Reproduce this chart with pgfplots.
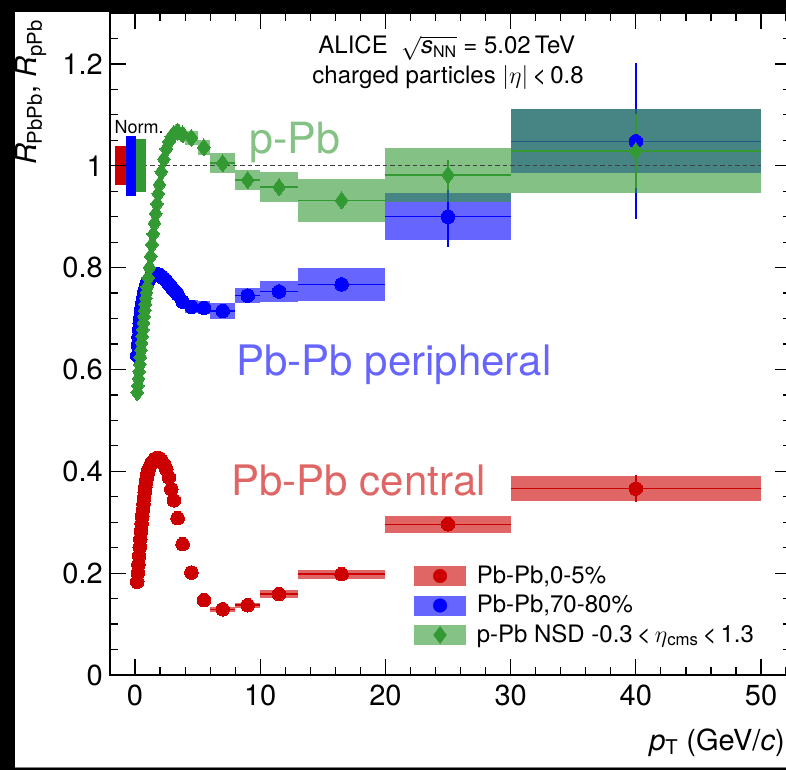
\RequirePackage{fix-cm}
\documentclass[border=0pt]{standalone}
\usepackage{fontspec}
\setmainfont{TeX Gyre Heros}
\usepackage{pgfplots}
\usepackage{pgfplotstable}
\pgfplotsset{compat=1.18}

\definecolor{cRed}{RGB}{204,0,0}
\definecolor{cBlue}{RGB}{0,0,255}
\definecolor{cGreen}{RGB}{51,153,51}
\colorlet{lRed}{cRed!60!white}
\colorlet{lBlue}{cBlue!60!white}
\colorlet{lGreen}{cGreen!60!white}

% x y ex stat sys
\pgfplotstableread{
x y ex stat sys
0.175 0.183 0.025 0.001 0.008
0.225 0.200 0.025 0.001 0.008
0.275 0.217 0.025 0.001 0.008
0.325 0.234 0.025 0.001 0.008
0.375 0.251 0.025 0.001 0.008
0.425 0.267 0.025 0.001 0.008
0.475 0.282 0.025 0.001 0.008
0.525 0.297 0.025 0.001 0.008
0.575 0.311 0.025 0.001 0.008
0.625 0.324 0.025 0.001 0.008
0.675 0.336 0.025 0.001 0.008
0.725 0.348 0.025 0.001 0.008
0.775 0.359 0.025 0.001 0.008
0.825 0.369 0.025 0.001 0.008
0.875 0.378 0.025 0.001 0.008
0.925 0.386 0.025 0.001 0.008
0.975 0.393 0.025 0.001 0.008
1.05 0.400 0.05 0.001 0.009
1.15 0.407 0.05 0.001 0.009
1.25 0.413 0.05 0.001 0.009
1.35 0.417 0.05 0.001 0.009
1.45 0.420 0.05 0.001 0.009
1.55 0.423 0.05 0.001 0.009
1.65 0.425 0.05 0.001 0.009
1.75 0.426 0.05 0.001 0.009
1.85 0.426 0.05 0.001 0.009
1.95 0.425 0.05 0.001 0.009
2.1 0.421 0.1 0.001 0.009
2.3 0.414 0.1 0.001 0.009
2.5 0.404 0.1 0.001 0.009
2.7 0.388 0.1 0.001 0.009
2.9 0.365 0.1 0.001 0.008
3.1 0.343 0.1 0.001 0.008
3.4 0.308 0.2 0.001 0.007
3.8 0.257 0.2 0.001 0.006
4.5 0.201 0.5 0.001 0.005
5.5 0.147 0.5 0.001 0.004
7 0.129 1 0.001 0.005
9 0.137 1 0.002 0.005
11.5 0.159 1.5 0.002 0.007
16.5 0.198 3.5 0.004 0.009
25 0.296 5 0.010 0.017
40 0.366 10 0.026 0.025
}\redtab

\pgfplotstableread{
x y ex stat sys
0.175 0.627 0.025 0.002 0.012
0.225 0.648 0.025 0.002 0.012
0.275 0.664 0.025 0.002 0.012
0.325 0.678 0.025 0.002 0.012
0.375 0.691 0.025 0.002 0.012
0.425 0.702 0.025 0.002 0.012
0.475 0.712 0.025 0.002 0.012
0.525 0.721 0.025 0.002 0.012
0.575 0.729 0.025 0.002 0.012
0.625 0.736 0.025 0.002 0.012
0.675 0.743 0.025 0.002 0.012
0.725 0.749 0.025 0.002 0.012
0.775 0.754 0.025 0.002 0.012
0.825 0.759 0.025 0.002 0.012
0.875 0.763 0.025 0.002 0.012
0.925 0.767 0.025 0.002 0.012
0.975 0.770 0.025 0.002 0.012
1.05 0.774 0.05 0.002 0.012
1.15 0.778 0.05 0.002 0.012
1.25 0.781 0.05 0.002 0.012
1.35 0.783 0.05 0.002 0.012
1.45 0.785 0.05 0.002 0.012
1.55 0.786 0.05 0.002 0.012
1.65 0.787 0.05 0.002 0.012
1.75 0.787 0.05 0.002 0.012
1.85 0.786 0.05 0.002 0.012
1.95 0.785 0.05 0.002 0.012
2.1 0.783 0.1 0.002 0.013
2.3 0.779 0.1 0.002 0.013
2.5 0.774 0.1 0.002 0.013
2.7 0.768 0.1 0.002 0.013
2.9 0.762 0.1 0.002 0.013
3.1 0.756 0.1 0.002 0.013
3.4 0.748 0.2 0.002 0.013
3.8 0.733 0.2 0.003 0.013
4.5 0.723 0.5 0.003 0.013
5.5 0.721 0.5 0.003 0.013
7 0.715 1 0.004 0.015
9 0.745 1 0.006 0.015
11.5 0.753 1.5 0.008 0.021
16.5 0.767 3.5 0.013 0.033
25 0.900 5 0.060 0.046
40 1.048 10 0.153 0.063
}\bluetab

\pgfplotstableread{
x y ex stat sys
0.175 0.555 0.025 0.002 0.012
0.225 0.568 0.025 0.002 0.012
0.275 0.582 0.025 0.002 0.012
0.325 0.596 0.025 0.002 0.012
0.375 0.610 0.025 0.002 0.012
0.425 0.624 0.025 0.002 0.012
0.475 0.638 0.025 0.002 0.012
0.525 0.652 0.025 0.002 0.012
0.575 0.665 0.025 0.002 0.012
0.625 0.678 0.025 0.002 0.012
0.675 0.691 0.025 0.002 0.012
0.725 0.704 0.025 0.002 0.012
0.775 0.716 0.025 0.002 0.012
0.825 0.728 0.025 0.002 0.012
0.875 0.740 0.025 0.002 0.012
0.925 0.751 0.025 0.002 0.012
0.975 0.762 0.025 0.002 0.012
1.05 0.780 0.05 0.002 0.013
1.15 0.800 0.05 0.002 0.013
1.25 0.822 0.05 0.002 0.013
1.35 0.845 0.05 0.002 0.013
1.45 0.866 0.05 0.002 0.013
1.55 0.887 0.05 0.002 0.013
1.65 0.906 0.05 0.002 0.013
1.75 0.925 0.05 0.002 0.013
1.85 0.945 0.05 0.002 0.013
1.95 0.963 0.05 0.002 0.013
2.1 0.988 0.1 0.002 0.014
2.3 1.013 0.1 0.002 0.014
2.5 1.033 0.1 0.002 0.014
2.7 1.047 0.1 0.002 0.014
2.9 1.057 0.1 0.002 0.014
3.1 1.063 0.1 0.002 0.015
3.4 1.067 0.2 0.002 0.015
3.8 1.062 0.2 0.003 0.015
4.5 1.055 0.5 0.003 0.014
5.5 1.036 0.5 0.003 0.015
7 1.005 1 0.004 0.020
9 0.972 1 0.005 0.020
11.5 0.958 1.5 0.007 0.030
16.5 0.932 3.5 0.012 0.042
25 0.982 5 0.030 0.053
40 1.029 10 0.073 0.083
}\greentab

\newcommand{\sysboxes}[2]{%
  \pgfplotstablegetrowsof{#1}%
  \pgfmathtruncatemacro{\nlast}{\pgfplotsretval-1}%
  \pgfplotsforeachungrouped \ri in {0,...,\nlast}{%
    \pgfplotstablegetelem{\ri}{x}\of{#1}\let\bx\pgfplotsretval
    \pgfplotstablegetelem{\ri}{y}\of{#1}\let\by\pgfplotsretval
    \pgfplotstablegetelem{\ri}{ex}\of{#1}\let\bex\pgfplotsretval
    \pgfplotstablegetelem{\ri}{sys}\of{#1}\let\bs\pgfplotsretval
    \pgfmathsetmacro{\xa}{\bx-\bex}%
    \pgfmathsetmacro{\xb}{\bx+\bex}%
    \pgfmathsetmacro{\ya}{\by-\bs}%
    \pgfmathsetmacro{\yb}{\by+\bs}%
    \edef\doplot{\noexpand\addplot[draw=none, fill=#2, fill opacity=0.6, forget plot] coordinates {(\xa,\ya) (\xb,\ya) (\xb,\yb) (\xa,\yb)} -- cycle;}%
    \doplot
  }%
}

\begin{document}
\begin{tikzpicture}
\useasboundingbox (0,0) rectangle (786pt,770pt);
\fill[black] (0,0) rectangle (786pt,770pt);
\fill[white] (15pt,2pt) rectangle (786pt,758pt);
\draw[gray, line width=1pt] (15pt,2.5pt) -- (786pt,2.5pt);
\begin{axis}[
  at={(110pt,95pt)}, anchor=south west,
  scale only axis, width=681.1pt, height=662pt,
  xmin=-2, xmax=52.4, ymin=0, ymax=1.3,
  xtick={0,10,20,30,40,50},
  minor xtick={-2,2,4,6,8,12,14,16,18,22,24,26,28,32,34,36,38,42,44,46,48,52},
  ytick={0,0.2,0.4,0.6,0.8,1,1.2},
  minor ytick={0.05,0.1,0.15,0.25,0.3,0.35,0.45,0.5,0.55,0.65,0.7,0.75,0.85,0.9,0.95,1.05,1.1,1.15,1.25},
  major tick length=16pt, minor tick length=8pt,
  every tick/.style={black, line width=1.2pt},
  axis line style={line width=1.2pt},
  axis on top,
  /pgf/number format/assume math mode=true,
  xticklabel style={font=\fontsize{29}{32}\selectfont, inner sep=0pt, anchor=north, yshift=-10pt},
  yticklabel style={font=\fontsize{29}{32}\selectfont, inner sep=0pt, anchor=east, xshift=-7pt},
  xlabel={\textit{p}\textsubscript{T} (GeV/\textit{c})},
  xlabel style={at={(axis description cs:0.991,-0.1133)}, anchor=base east, inner sep=0pt, font=\fontsize{29}{32}\selectfont},
  ylabel={\textit{R}\textsubscript{PbPb}, \textit{R}\textsubscript{pPb}},
  ylabel style={at={(axis description cs:-0.1072,0.9894)}, anchor=base east, inner sep=0pt, font=\fontsize{29}{32}\selectfont},
  legend style={at={(axis cs:22.31,0.216)}, anchor=north west, draw=none, fill=none,
    inner sep=0pt, outer sep=0pt, row sep=7.5pt, column sep=11pt,
    font=\fontsize{24}{28}\selectfont,
    nodes={inner sep=0pt, text height=18pt, text depth=4pt, anchor=west}},
  legend cell align=left,
]
% Pb-Pb 0-5%
\sysboxes{\redtab}{cRed}
\addplot[only marks, mark=*, mark size=6.8pt, color=cRed, mark options={fill=cRed, draw=cRed, line width=0pt}, forget plot,
  error bars/.cd, x dir=both, x explicit, y dir=both, y explicit, error mark=none, error bar style={line width=1.5pt, color=cRed}]
  table[x=x, y=y, x error=ex, y error=stat] {\redtab};
% Pb-Pb 70-80%
\sysboxes{\bluetab}{cBlue}
\addplot[only marks, mark=*, mark size=6.8pt, color=cBlue, mark options={fill=cBlue, draw=cBlue, line width=0pt}, forget plot,
  error bars/.cd, x dir=both, x explicit, y dir=both, y explicit, error mark=none, error bar style={line width=1.5pt, color=cBlue}]
  table[x=x, y=y, x error=ex, y error=stat] {\bluetab};
% p-Pb
\sysboxes{\greentab}{cGreen}
\addplot[only marks, mark=diamond*, mark size=8.5pt, color=cGreen, mark options={fill=cGreen, draw=cGreen, line width=0pt}, forget plot,
  error bars/.cd, x dir=both, x explicit, y dir=both, y explicit, error mark=none, error bar style={line width=1.5pt, color=cGreen}]
  table[x=x, y=y, x error=ex, y error=stat] {\greentab};
% unity line
\addplot[black!75, line width=1.2pt, dash pattern=on 4.5pt off 3pt, forget plot] coordinates {(0,1) (50,1)};
% normalisation boxes
\addplot[draw=none, fill=cRed, forget plot] coordinates {(-1.6,0.962) (-0.75,0.962) (-0.75,1.038) (-1.6,1.038)} -- cycle;
\addplot[draw=none, fill=cBlue, forget plot] coordinates {(-0.75,0.941) (0.05,0.941) (0.05,1.059) (-0.75,1.059)} -- cycle;
\addplot[draw=none, fill=cGreen, forget plot] coordinates {(0.05,0.948) (0.85,0.948) (0.85,1.052) (0.05,1.052)} -- cycle;

\node[anchor=base west, inner sep=0pt, font=\fontsize{18}{20}\selectfont] at (axis cs:-1.65,1.0627) {Norm.};
\node[anchor=base, inner sep=0pt, font=\fontsize{24}{28}\selectfont] at (axis cs:24.9,1.2196)
  {ALICE\ \ $\sqrt{\mbox{\textit{s}}_{\mbox{\fontsize{16}{16}\selectfont NN}}}$ = 5.02\,TeV};
\node[anchor=base, inner sep=0pt, font=\fontsize{24}{28}\selectfont] at (axis cs:25.0,1.1608)
  {charged particles $|\eta|$\,<\,0.8};
\node[anchor=base west, inner sep=0pt, text=lGreen, font=\fontsize{43}{48}\selectfont] at (axis cs:9.1,1.0235) {p-Pb};
\node[anchor=base west, inner sep=0pt, text=lBlue, font=\fontsize{42}{48}\selectfont] at (axis cs:8.09,0.588) {Pb-Pb peripheral};
\node[anchor=base west, inner sep=0pt, text=lRed, font=\fontsize{42}{48}\selectfont] at (axis cs:7.69,0.353) {Pb-Pb central};

\addlegendimage{legend image code/.code={\fill[lRed] (0pt,-9.5pt) rectangle (51pt,9.5pt); \fill[cRed] (25.5pt,0pt) circle (6.8pt);}}
\addlegendentry{Pb-Pb,0-5\%}
\addlegendimage{legend image code/.code={\fill[lBlue] (0pt,-9.5pt) rectangle (51pt,9.5pt); \fill[cBlue] (25.5pt,0pt) circle (6.8pt);}}
\addlegendentry{Pb-Pb,70-80\%}
\addlegendimage{legend image code/.code={\fill[lGreen] (0pt,-9.5pt) rectangle (51pt,9.5pt); \fill[cGreen] (25.5pt,8.5pt) -- (31.9pt,0pt) -- (25.5pt,-8.5pt) -- (19.1pt,0pt) -- cycle;}}
\addlegendentry{p-Pb NSD -0.3\,<\,$\eta$\textsubscript{cms}\,<\,1.3}
\end{axis}
\end{tikzpicture}
\end{document}
